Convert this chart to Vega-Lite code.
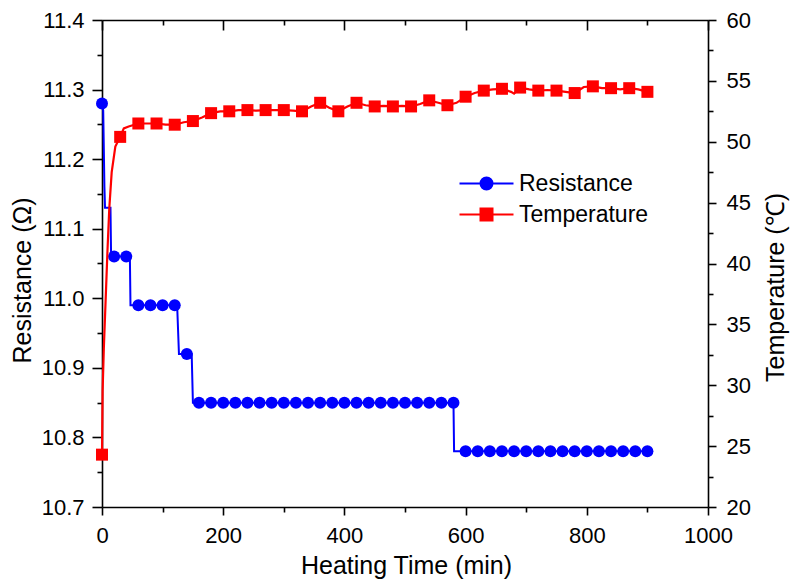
{
  "$schema": "https://vega.github.io/schema/vega-lite/v6.json",
  "width": 606,
  "height": 487,
  "autosize": {"type": "none"},
  "padding": {"left": 102, "top": 20, "right": 82, "bottom": 72},
  "background": "white",
  "datasets": {
    "res_trace": [
      {"time": 0, "resistance": 11.28}, {"time": 2, "resistance": 11.27}, {"time": 4, "resistance": 11.16},
      {"time": 5, "resistance": 11.13}, {"time": 14, "resistance": 11.13}, {"time": 15, "resistance": 11.06},
      {"time": 46, "resistance": 11.06}, {"time": 47, "resistance": 10.99}, {"time": 124, "resistance": 10.99},
      {"time": 127, "resistance": 10.92}, {"time": 148, "resistance": 10.92}, {"time": 150, "resistance": 10.85},
      {"time": 580, "resistance": 10.85}, {"time": 581, "resistance": 10.78}, {"time": 900, "resistance": 10.78}
    ],
    "res_points": [
      {"time": 0, "resistance": 11.28}, {"time": 20, "resistance": 11.06}, {"time": 40, "resistance": 11.06},
      {"time": 60, "resistance": 10.99}, {"time": 80, "resistance": 10.99}, {"time": 100, "resistance": 10.99},
      {"time": 120, "resistance": 10.99}, {"time": 140, "resistance": 10.92}, {"time": 160, "resistance": 10.85},
      {"time": 180, "resistance": 10.85}, {"time": 200, "resistance": 10.85}, {"time": 220, "resistance": 10.85},
      {"time": 240, "resistance": 10.85}, {"time": 260, "resistance": 10.85}, {"time": 280, "resistance": 10.85},
      {"time": 300, "resistance": 10.85}, {"time": 320, "resistance": 10.85}, {"time": 340, "resistance": 10.85},
      {"time": 360, "resistance": 10.85}, {"time": 380, "resistance": 10.85}, {"time": 400, "resistance": 10.85},
      {"time": 420, "resistance": 10.85}, {"time": 440, "resistance": 10.85}, {"time": 460, "resistance": 10.85},
      {"time": 480, "resistance": 10.85}, {"time": 500, "resistance": 10.85}, {"time": 520, "resistance": 10.85},
      {"time": 540, "resistance": 10.85}, {"time": 560, "resistance": 10.85}, {"time": 580, "resistance": 10.85},
      {"time": 600, "resistance": 10.78}, {"time": 620, "resistance": 10.78}, {"time": 640, "resistance": 10.78},
      {"time": 660, "resistance": 10.78}, {"time": 680, "resistance": 10.78}, {"time": 700, "resistance": 10.78},
      {"time": 720, "resistance": 10.78}, {"time": 740, "resistance": 10.78}, {"time": 760, "resistance": 10.78},
      {"time": 780, "resistance": 10.78}, {"time": 800, "resistance": 10.78}, {"time": 820, "resistance": 10.78},
      {"time": 840, "resistance": 10.78}, {"time": 860, "resistance": 10.78}, {"time": 880, "resistance": 10.78},
      {"time": 900, "resistance": 10.78}
    ],
    "temp_trace": [
      {"time": 0, "temperature": 24.3}, {"time": 1, "temperature": 29.5}, {"time": 3, "temperature": 33},
      {"time": 6, "temperature": 37}, {"time": 9, "temperature": 41}, {"time": 12, "temperature": 44.5},
      {"time": 16, "temperature": 47.5}, {"time": 22, "temperature": 49.6}, {"time": 30, "temperature": 50.4},
      {"time": 36, "temperature": 51.1}, {"time": 44, "temperature": 51.25}, {"time": 60, "temperature": 51.5},
      {"time": 75, "temperature": 51.5}, {"time": 90, "temperature": 51.5}, {"time": 105, "temperature": 51.4},
      {"time": 120, "temperature": 51.4}, {"time": 135, "temperature": 51.6}, {"time": 150, "temperature": 51.7},
      {"time": 165, "temperature": 52.0}, {"time": 180, "temperature": 52.35}, {"time": 195, "temperature": 52.5},
      {"time": 210, "temperature": 52.5}, {"time": 225, "temperature": 52.6}, {"time": 240, "temperature": 52.6},
      {"time": 255, "temperature": 52.55}, {"time": 270, "temperature": 52.6}, {"time": 285, "temperature": 52.6},
      {"time": 300, "temperature": 52.6}, {"time": 315, "temperature": 52.55}, {"time": 330, "temperature": 52.5},
      {"time": 345, "temperature": 52.9}, {"time": 360, "temperature": 53.2}, {"time": 375, "temperature": 52.8},
      {"time": 390, "temperature": 52.5}, {"time": 405, "temperature": 52.9}, {"time": 420, "temperature": 53.2},
      {"time": 435, "temperature": 53.0}, {"time": 450, "temperature": 52.9}, {"time": 465, "temperature": 52.95},
      {"time": 480, "temperature": 52.9}, {"time": 495, "temperature": 52.95}, {"time": 510, "temperature": 52.9},
      {"time": 525, "temperature": 53.1}, {"time": 540, "temperature": 53.4}, {"time": 555, "temperature": 53.2},
      {"time": 570, "temperature": 53.0}, {"time": 585, "temperature": 53.2}, {"time": 600, "temperature": 53.7},
      {"time": 615, "temperature": 54.0}, {"time": 630, "temperature": 54.2}, {"time": 645, "temperature": 54.3},
      {"time": 660, "temperature": 54.35}, {"time": 675, "temperature": 54.1}, {"time": 680, "temperature": 53.95},
      {"time": 690, "temperature": 54.45}, {"time": 705, "temperature": 54.3}, {"time": 720, "temperature": 54.2},
      {"time": 735, "temperature": 54.25}, {"time": 750, "temperature": 54.2}, {"time": 765, "temperature": 54.1},
      {"time": 780, "temperature": 54.0}, {"time": 795, "temperature": 54.5}, {"time": 810, "temperature": 54.55},
      {"time": 825, "temperature": 54.4}, {"time": 840, "temperature": 54.4}, {"time": 855, "temperature": 54.3},
      {"time": 870, "temperature": 54.4}, {"time": 885, "temperature": 54.3}, {"time": 900, "temperature": 54.1}
    ],
    "temp_points": [
      {"time": 0, "temperature": 24.3}, {"time": 30, "temperature": 50.4}, {"time": 60, "temperature": 51.5},
      {"time": 90, "temperature": 51.5}, {"time": 120, "temperature": 51.4}, {"time": 150, "temperature": 51.7},
      {"time": 180, "temperature": 52.35}, {"time": 210, "temperature": 52.5}, {"time": 240, "temperature": 52.6},
      {"time": 270, "temperature": 52.6}, {"time": 300, "temperature": 52.6}, {"time": 330, "temperature": 52.5},
      {"time": 360, "temperature": 53.2}, {"time": 390, "temperature": 52.5}, {"time": 420, "temperature": 53.2},
      {"time": 450, "temperature": 52.9}, {"time": 480, "temperature": 52.9}, {"time": 510, "temperature": 52.9},
      {"time": 540, "temperature": 53.4}, {"time": 570, "temperature": 53.0}, {"time": 600, "temperature": 53.7},
      {"time": 630, "temperature": 54.2}, {"time": 660, "temperature": 54.35}, {"time": 690, "temperature": 54.45},
      {"time": 720, "temperature": 54.2}, {"time": 750, "temperature": 54.2}, {"time": 780, "temperature": 54.0},
      {"time": 810, "temperature": 54.55}, {"time": 840, "temperature": 54.4}, {"time": 870, "temperature": 54.4},
      {"time": 900, "temperature": 54.1}
    ],
    "legend_rows": [
      {"series": "Resistance"}, {"series": "Temperature"}
    ]
  },
  "resolve": {
    "scale": {"y": "independent"},
    "axis": {"x": "independent", "y": "independent"}
  },
  "layer": [
    {
      "data": {"name": "res_trace"},
      "mark": {"type": "line", "color": "#0000ff", "strokeWidth": 2},
      "encoding": {
        "x": {"field": "time", "type": "quantitative",
          "scale": {"domain": [0, 1000], "nice": false, "zero": false},
          "axis": {"orient": "bottom", "values": [0, 200, 400, 600, 800, 1000], "format": "d", "tickSize": 8, "labelPadding": 10,
            "labelFlush": false, "title": "Heating Time (min)", "titleX": 304, "titleY": 58,
            "titleBaseline": "middle", "titleAlign": "center"}},
        "y": {"field": "resistance", "type": "quantitative",
          "scale": {"domain": [10.7, 11.4], "nice": false, "zero": false},
          "axis": {"orient": "left", "values": [10.7, 10.8, 10.9, 11.0, 11.1, 11.2, 11.3, 11.4], "format": ".1f",
            "tickSize": 10, "labelPadding": 8, "labelFlush": false, "labelOverlap": false,
            "title": "Resistance (Ω)", "titleAngle": 270, "titleX": -80, "titleY": 260,
            "titleBaseline": "middle", "titleAlign": "center"}}
      }
    },
    {
      "data": {"name": "res_points"},
      "mark": {"type": "point", "shape": "circle", "filled": true, "color": "#0000ff", "size": 144, "opacity": 1},
      "encoding": {
        "x": {"field": "time", "type": "quantitative",
          "scale": {"domain": [0, 1000], "nice": false, "zero": false},
          "axis": {"orient": "bottom", "values": [100, 300, 500, 700, 900], "tickSize": 5, "labels": false,
            "domain": false, "title": null}},
        "y": {"field": "resistance", "type": "quantitative",
          "scale": {"domain": [10.7, 11.4], "nice": false, "zero": false},
          "axis": {"orient": "left", "values": [10.75, 10.85, 10.95, 11.05, 11.15, 11.25, 11.35], "tickSize": 5,
            "labels": false, "domain": false, "title": null}}
      }
    },
    {
      "data": {"name": "temp_trace"},
      "mark": {"type": "line", "color": "#ff0000", "strokeWidth": 2.2},
      "encoding": {
        "x": {"field": "time", "type": "quantitative",
          "scale": {"domain": [0, 1000], "nice": false, "zero": false},
          "axis": {"orient": "top", "values": [0, 200, 400, 600, 800, 1000], "tickSize": -10, "labels": false,
            "title": null}},
        "y": {"field": "temperature", "type": "quantitative",
          "scale": {"domain": [20, 60], "nice": false, "zero": false},
          "axis": {"orient": "right", "values": [20, 25, 30, 35, 40, 45, 50, 55, 60], "tickSize": 8,
            "labelPadding": 10, "labelFlush": false, "labelOverlap": false,
            "title": "Temperature (℃)", "titleAngle": 270, "titleX": 67, "titleY": 267,
            "titleBaseline": "middle", "titleAlign": "center"}}
      }
    },
    {
      "data": {"name": "temp_points"},
      "mark": {"type": "point", "shape": "square", "filled": true, "color": "#ff0000", "size": 144, "opacity": 1},
      "encoding": {
        "x": {"field": "time", "type": "quantitative",
          "scale": {"domain": [0, 1000], "nice": false, "zero": false},
          "axis": {"orient": "top", "values": [100, 300, 500, 700, 900], "tickSize": -5, "labels": false,
            "domain": false, "title": null}},
        "y": {"field": "temperature", "type": "quantitative",
          "scale": {"domain": [20, 60], "nice": false, "zero": false},
          "axis": {"orient": "right", "values": [22.5, 27.5, 32.5, 37.5, 42.5, 47.5, 52.5, 57.5], "tickSize": 5,
            "labels": false, "domain": false, "title": null}}
      }
    },
    {
      "data": {"name": "legend_rows"},
      "mark": {"type": "point", "filled": true, "strokeWidth": 2, "opacity": 1},
      "encoding": {
        "x": {"field": "time", "type": "quantitative",
          "scale": {"domain": [0, 1000], "nice": false, "zero": false}, "axis": null},
        "y": {"field": "temperature", "type": "quantitative",
          "scale": {"domain": [20, 60], "nice": false, "zero": false}, "axis": null},
        "fill": {"field": "series", "type": "nominal",
          "scale": {"domain": ["Resistance", "Temperature"], "range": ["#0000ff", "#ff0000"]},
          "legend": {"title": null}},
        "stroke": {"field": "series", "type": "nominal",
          "scale": {"domain": ["Resistance", "Temperature"], "range": ["#0000ff", "#ff0000"]},
          "legend": {"title": null}},
        "shape": {"field": "series", "type": "nominal",
          "scale": {"domain": ["Resistance", "Temperature"],
            "range": ["M-4.5,0H4.5M1,0A1,1,0,1,1,-1,0A1,1,0,1,1,1,0Z", "M-4.5,0H4.5M-1,-1H1V1H-1Z"]},
          "legend": {"title": null}}
      }
    }
  ],
  "config": {
    "view": {"stroke": null},
    "axis": {
      "labelFont": "Liberation Sans", "titleFont": "Liberation Sans",
      "labelFontSize": 22, "titleFontSize": 25, "titleFontWeight": "normal",
      "labelColor": "#000000", "titleColor": "#000000", "domainColor": "#000000", "tickColor": "#000000",
      "domainWidth": 1.6, "tickWidth": 1.6, "grid": false
    },
    "legend": {
      "orient": "none", "legendX": 373, "legendY": 152, "padding": 0,
      "labelFont": "Liberation Sans", "labelFontSize": 23, "labelColor": "#000000",
      "labelOffset": 21, "symbolSize": 144, "symbolStrokeWidth": 2, "rowPadding": 7
    }
  }
}
